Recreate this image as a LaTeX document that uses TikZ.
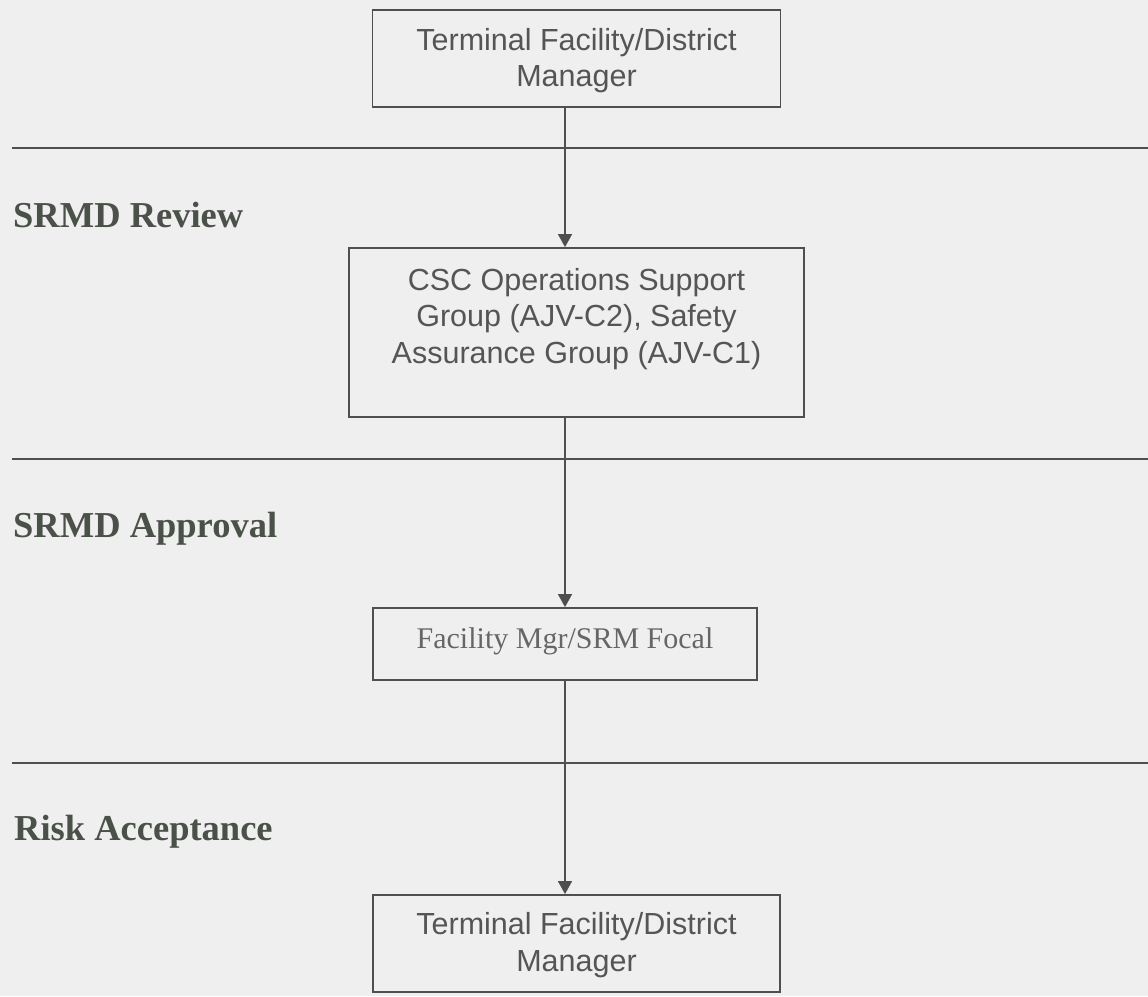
\documentclass[tikz,border=0pt]{standalone}
\usepackage{fontspec}
\setmainfont{Liberation Serif}
\newfontfamily\boxfont{Liberation Sans}
\usetikzlibrary{arrows.meta}
\definecolor{paper}{HTML}{EFEFEF}
\definecolor{ink}{HTML}{4F4F4F}
\definecolor{headink}{HTML}{4A5148}
\definecolor{boxtext}{HTML}{555555}
\definecolor{softtext}{HTML}{666666}
\tikzset{
  stagebox/.style={draw=ink, line width=1.8pt, inner sep=0pt, rectangle},
  sanslabel/.style={font=\boxfont\fontsize{30.5}{36.5}\selectfont, text=boxtext, align=center, inner sep=0pt},
  seriflabel/.style={font=\fontsize{30}{36}\selectfont, text=softtext, inner sep=0pt},
  heading/.style={font=\bfseries\fontsize{36.5}{40}\selectfont, text=headink, anchor=base west, inner sep=0pt},
  divider/.style={draw=ink, line width=2.2pt},
  flow/.style={draw=ink, line width=1.4pt, -{Triangle[length=13pt,width=14pt]}},
}
\begin{document}
\begin{tikzpicture}[x=1pt,y=-1pt]
  \fill[paper] (0,0) rectangle (1148,996);
  \useasboundingbox (0,0) rectangle (1148,996);

  % stage dividers
  \coordinate (d1a) at (12,148);  \coordinate (d1b) at (1148,148);
  \coordinate (d2a) at (12,459);  \coordinate (d2b) at (1148,459);
  \coordinate (d3a) at (12,763);  \coordinate (d3b) at (1148,763);
  \draw[divider] (d1a) -- (d1b);
  \draw[divider] (d2a) -- (d2b);
  \draw[divider] (d3a) -- (d3b);

  % stage headings
  \node[heading] (hreview)   at (13,227) {SRMD Review};
  \node[heading] (happroval) at (13,537) {SRMD Approval};
  \node[heading] (hrisk)     at (14,840) {Risk Acceptance};

  % boxes
  \node[stagebox, minimum width=408pt, minimum height=97pt] (b1) at (576.5,58.5) {};
  \node[sanslabel] (t1) at (576.5,60.5) {Terminal Facility/District\\Manager};

  \node[stagebox, minimum width=455pt, minimum height=169pt] (b2) at (576.5,332.5) {};
  \node[sanslabel, anchor=base] (t2) at (576.5,363) {CSC Operations Support\\Group (AJV-C2), Safety\\Assurance Group (AJV-C1)};

  \node[stagebox, minimum width=384pt, minimum height=72pt] (b3) at (565,644) {};
  \node[seriflabel] (t3) at (565,641) {Facility Mgr/SRM Focal};

  \node[stagebox, minimum width=407pt, minimum height=97pt] (b4) at (576.5,943.5) {};
  \node[sanslabel] (t4) at (576.5,945) {Terminal Facility/District\\Manager};

  % flow between stages
  \draw[flow] (b1.south -| b3.center) -- (b2.north -| b3.center);
  \draw[flow] (b2.south -| b3.center) -- (b3.north);
  \draw[flow] (b3.south) -- (b4.north -| b3.center);
\end{tikzpicture}
\end{document}
